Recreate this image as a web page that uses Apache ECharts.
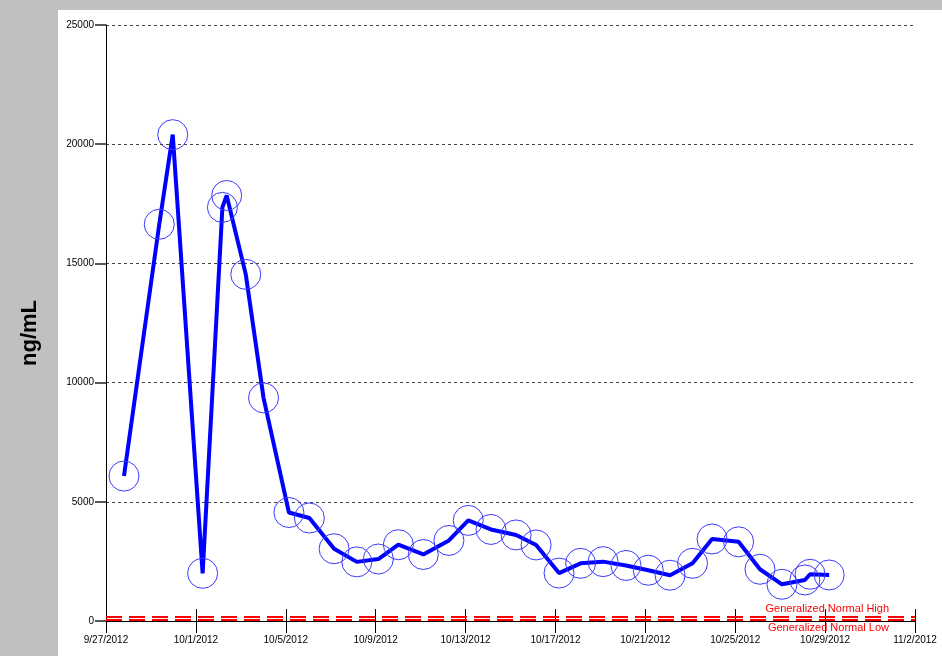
<!DOCTYPE html>
<html style="height: 100%">

<head>
    <meta charset="utf-8">
</head>

<body style="height: 100%; margin: 0">
    <div id="container" style="width: 942px; height: 656px"></div>

    <script type="text/javascript" src="https://cdn.jsdelivr.net/npm/echarts@6/dist/echarts.min.js"></script>

    <script type="text/javascript">

        // x ticks every 4 days starting 9/27/2012
        var tickLabels = ['9/27/2012', '10/1/2012', '10/5/2012', '10/9/2012', '10/13/2012',
            '10/17/2012', '10/21/2012', '10/25/2012', '10/29/2012', '11/2/2012'];

        // days since 9/27/2012 for each sample
        var dayOffsets = [0.80, 2.37, 2.97, 4.30, 5.18, 5.37, 6.22, 7.01, 8.14, 9.05,
            10.15, 11.16, 12.12, 13.01, 14.12, 15.26, 16.12, 17.13, 18.25, 19.14,
            20.16, 21.12, 22.12, 23.14, 24.13, 25.10, 26.10, 26.97, 28.15, 29.10,
            30.08, 31.10, 31.33, 32.18];

        // ng/mL
        var values = [6080, 16640, 20400, 2000, 17350, 17850, 14540, 9360, 4550, 4320,
            3030, 2480, 2600, 3200, 2790, 3380, 4220, 3840, 3610, 3190,
            2010, 2420, 2490, 2330, 2130, 1920, 2420, 3440, 3320, 2170,
            1540, 1720, 1960, 1930];

        var normalHigh = 160;
        var normalLow = 55;

        var dom = document.getElementById("container");
        var myChart = echarts.init(dom);
        var option;

        var seriesData = dayOffsets.map(function (d, i) {
            return [d, values[i]];
        });

        var labelFont = 'Liberation Sans, Arial, sans-serif';

        option = {
            animation: false,
            backgroundColor: '#c0c0c0',
            graphic: [
                {
                    type: 'rect',
                    z: -10,
                    shape: { x: 58, y: 10, width: 884, height: 646 },
                    style: { fill: '#ffffff' }
                },
                {
                    // y axis title sits out on the grey margin
                    type: 'text',
                    x: 30,
                    y: 333,
                    rotation: Math.PI / 2,
                    style: {
                        text: 'ng/mL',
                        fill: '#000',
                        font: 'bold 22px Liberation Sans, Arial, sans-serif',
                        align: 'center',
                        verticalAlign: 'middle'
                    }
                }
            ],
            grid: {
                left: 106,
                right: 27,
                top: 25,
                bottom: 35
            },
            xAxis: [
                {
                    type: 'value',
                    min: 0,
                    max: 36,
                    interval: 4,
                    axisLine: { show: true, lineStyle: { color: '#000', width: 1 } },
                    axisTick: { show: true, length: 12, lineStyle: { color: '#000' } },
                    axisLabel: {
                        margin: 14,
                        fontSize: 10,
                        color: '#000',
                        fontFamily: labelFont,
                        formatter: function (v) {
                            return tickLabels[Math.round(v / 4)];
                        }
                    },
                    splitLine: { show: false }
                },
                {
                    // second copy of the axis for the ticks that rise above the line
                    type: 'value',
                    position: 'bottom',
                    min: 0,
                    max: 36,
                    interval: 4,
                    axisLine: { show: false },
                    axisTick: { show: true, inside: true, length: 12, lineStyle: { color: '#000' } },
                    axisLabel: { show: false },
                    splitLine: { show: false }
                }
            ],
            yAxis: {
                type: 'value',
                min: 0,
                max: 25000,
                interval: 5000,
                axisLine: { show: true, lineStyle: { color: '#000', width: 1 } },
                axisTick: { show: true, length: 11, lineStyle: { color: '#222', width: 1.5 } },
                axisLabel: {
                    margin: 12,
                    fontSize: 10,
                    color: '#000',
                    fontFamily: labelFont,
                    formatter: function (v) {
                        return String(v);
                    }
                },
                splitLine: {
                    show: true,
                    lineStyle: { color: '#444', type: [3, 3], width: 1 }
                }
            },
            series: [
                {
                    name: 'ng/mL',
                    type: 'line',
                    data: seriesData,
                    symbol: 'circle',
                    symbolSize: 30,
                    itemStyle: {
                        color: 'rgba(0,0,0,0)',
                        borderColor: '#3a3aff',
                        borderWidth: 1
                    },
                    lineStyle: { color: '#0000ff', width: 4 },
                    markLine: {
                        silent: true,
                        symbol: 'none',
                        lineStyle: { color: '#ff0000', type: [16, 7], width: 2 },
                        data: [
                            {
                                yAxis: normalHigh,
                                name: 'Generalized Normal High',
                                label: { position: 'insideEndTop', distance: [26, 3] }
                            },
                            {
                                yAxis: normalLow,
                                name: 'Generalized Normal Low',
                                label: { position: 'insideEndBottom', distance: [26, 3] }
                            }
                        ],
                        label: {
                            show: true,
                            formatter: '{b}',
                            color: '#ff0000',
                            fontSize: 11,
                            fontFamily: 'Liberation Sans Narrow, Arial Narrow, sans-serif'
                        }
                    }
                }
            ]
        };

        if (option && typeof option === 'object') {
            myChart.setOption(option);
        }

    </script>
</body>

</html>
